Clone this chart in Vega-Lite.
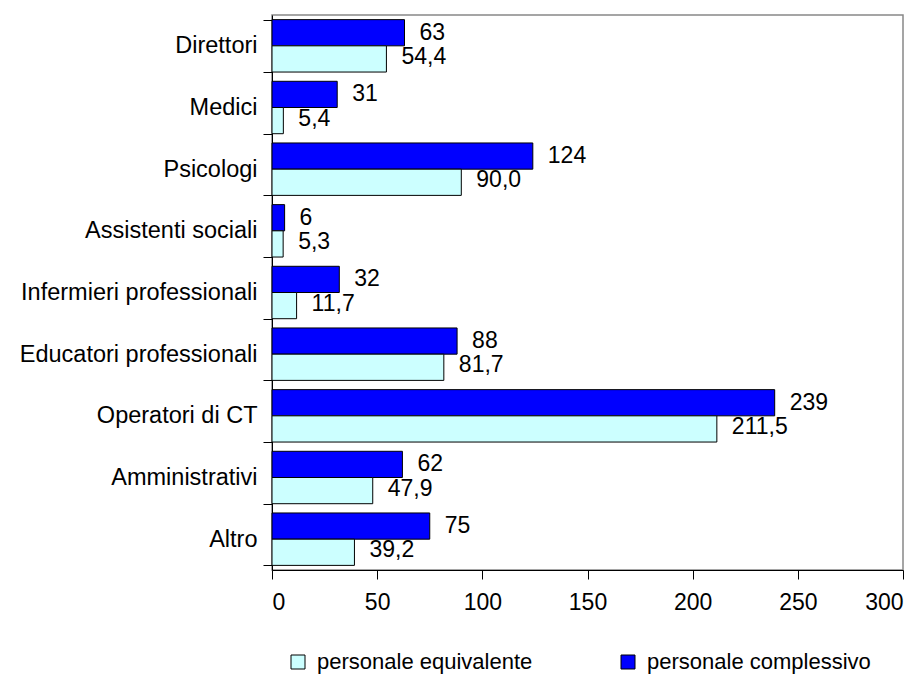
{
  "$schema": "https://vega.github.io/schema/vega-lite/v6.json",
  "width": 631,
  "height": 555,
  "autosize": {"type": "none"},
  "padding": {"left": 272, "top": 15, "right": 20, "bottom": 105},
  "background": "white",
  "config": {
    "locale": {"number": {"decimal": ",", "thousands": ".", "grouping": [3], "currency": ["€", ""]}},
    "view": {"stroke": "#888888", "strokeWidth": 1.5},
    "font": "Liberation Sans",
    "axis": {"labelFont": "Liberation Sans", "labelColor": "black", "domainColor": "black", "tickColor": "black", "grid": false, "title": null}
  },
  "data": {
    "values": [
      {"categoria": "Direttori", "serie": "personale complessivo", "valore": 63},
      {"categoria": "Direttori", "serie": "personale equivalente", "valore": 54.4},
      {"categoria": "Medici", "serie": "personale complessivo", "valore": 31},
      {"categoria": "Medici", "serie": "personale equivalente", "valore": 5.4},
      {"categoria": "Psicologi", "serie": "personale complessivo", "valore": 124},
      {"categoria": "Psicologi", "serie": "personale equivalente", "valore": 90.0},
      {"categoria": "Assistenti sociali", "serie": "personale complessivo", "valore": 6},
      {"categoria": "Assistenti sociali", "serie": "personale equivalente", "valore": 5.3},
      {"categoria": "Infermieri professionali", "serie": "personale complessivo", "valore": 32},
      {"categoria": "Infermieri professionali", "serie": "personale equivalente", "valore": 11.7},
      {"categoria": "Educatori professionali", "serie": "personale complessivo", "valore": 88},
      {"categoria": "Educatori professionali", "serie": "personale equivalente", "valore": 81.7},
      {"categoria": "Operatori di CT", "serie": "personale complessivo", "valore": 239},
      {"categoria": "Operatori di CT", "serie": "personale equivalente", "valore": 211.5},
      {"categoria": "Amministrativi", "serie": "personale complessivo", "valore": 62},
      {"categoria": "Amministrativi", "serie": "personale equivalente", "valore": 47.9},
      {"categoria": "Altro", "serie": "personale complessivo", "valore": 75},
      {"categoria": "Altro", "serie": "personale equivalente", "valore": 39.2}
    ]
  },
  "encoding": {
    "y": {
      "field": "categoria",
      "type": "nominal",
      "sort": null,
      "scale": {"paddingInner": 0.15, "paddingOuter": 0.075},
      "axis": {"labelFontSize": 23.5, "labelLimit": 0, "tickBand": "extent", "tickSize": 9, "labelPadding": 6, "domainWidth": 1, "tickWidth": 1}
    },
    "yOffset": {
      "field": "serie",
      "type": "nominal",
      "scale": {"domain": ["personale complessivo", "personale equivalente"], "paddingInner": 0, "paddingOuter": 0}
    },
    "x": {
      "field": "valore",
      "type": "quantitative",
      "scale": {"domain": [0, 300], "nice": false},
      "axis": {"values": [0, 50, 100, 150, 200, 250, 300], "labelFontSize": 23, "tickSize": 9, "labelPadding": 12, "domainWidth": 1, "tickWidth": 1}
    }
  },
  "layer": [
    {
      "mark": {"type": "bar", "stroke": "black", "strokeWidth": 1},
      "encoding": {
        "color": {
          "field": "serie",
          "type": "nominal",
          "scale": {"domain": ["personale equivalente", "personale complessivo"], "range": ["#CCFFFF", "#0000FF"]},
          "legend": {
            "title": null,
            "orient": "none",
            "legendX": 15,
            "legendY": 636,
            "direction": "horizontal",
            "symbolType": "square",
            "symbolSize": 196,
            "symbolStrokeColor": "black",
            "symbolStrokeWidth": 1,
            "symbolOpacity": 1,
            "labelFontSize": 22,
            "labelLimit": 0,
            "labelOffset": 8,
            "labelFont": "Liberation Sans",
            "labelColor": "black",
            "columnPadding": 84
          }
        }
      }
    },
    {
      "transform": [{"filter": "datum.serie === 'personale complessivo'"}],
      "mark": {"type": "text", "align": "left", "baseline": "middle", "dx": 15, "fontSize": 23, "color": "black", "font": "Liberation Sans"},
      "encoding": {"text": {"field": "valore", "type": "quantitative", "format": "d"}}
    },
    {
      "transform": [{"filter": "datum.serie === 'personale equivalente'"}],
      "mark": {"type": "text", "align": "left", "baseline": "middle", "dx": 15, "dy": -2, "fontSize": 23, "color": "black", "font": "Liberation Sans"},
      "encoding": {"text": {"field": "valore", "type": "quantitative", "format": ".1f"}}
    }
  ]
}
